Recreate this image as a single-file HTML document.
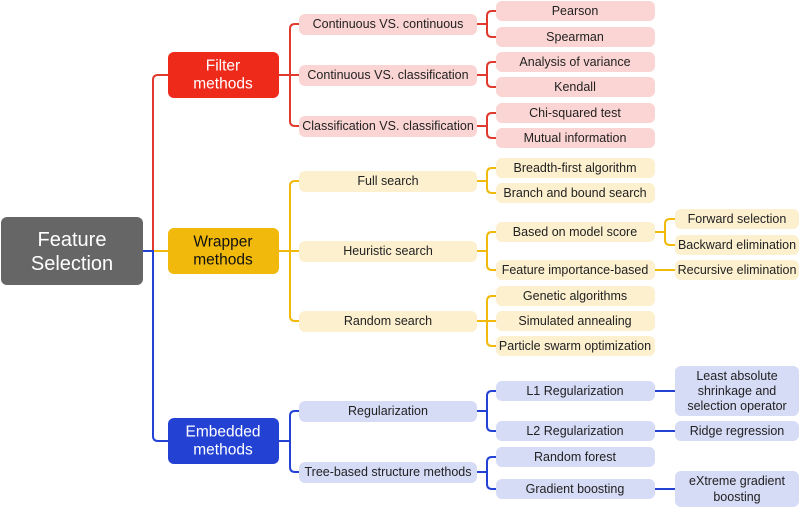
<!DOCTYPE html>
<html><head><meta charset="utf-8"><style>
html,body{margin:0;padding:0;background:#fff;}
svg{display:block}
text{font-family:"Liberation Sans",sans-serif;font-size:12.5px;fill:#222;text-anchor:middle;dominant-baseline:central}
.big{font-size:15.5px;fill:#fff}
.root{font-size:20px;fill:#fff}
.r{stroke:#e0392d;stroke-width:2;fill:none}
.y{stroke:#f0b90b;stroke-width:2;fill:none}
.b{stroke:#2342d4;stroke-width:2;fill:none}
</style></head><body>
<svg width="800" height="508" viewBox="0 0 800 508">
<path class="r" d="M143 251 H153 V80 Q153 75 158 75 H168"/>
<path class="y" d="M143 251 H168"/>
<path class="b" d="M143 251 H153 V436 Q153 441 158 441 H168"/>
<path class="r" d="M279 75 H299 M290 75 V29 Q290 24 295 24 H299 M290 75 V121 Q290 126 295 126 H299"/>
<path class="r" d="M477 24 H487 M487 24 V16 Q487 11 492 11 H496 M487 24 V32 Q487 37 492 37 H496"/>
<path class="r" d="M477 75 H487 M487 75 V67 Q487 62 492 62 H496 M487 75 V82 Q487 87 492 87 H496"/>
<path class="r" d="M477 126 H487 M487 126 V118 Q487 113 492 113 H496 M487 126 V133 Q487 138 492 138 H496"/>
<path class="y" d="M279 251 H299 M290 251 V186 Q290 181 295 181 H299 M290 251 V316 Q290 321 295 321 H299"/>
<path class="y" d="M477 181 H487 M487 181 V173 Q487 168 492 168 H496 M487 181 V188 Q487 193 492 193 H496"/>
<path class="y" d="M477 251 H487 M487 251 V237 Q487 232 492 232 H496 M487 251 V265 Q487 270 492 270 H496"/>
<path class="y" d="M477 321 H496 M487 321 V301 Q487 296 492 296 H496 M487 321 V341 Q487 346 492 346 H496"/>
<path class="y" d="M655 232 H665 M665 232 V224 Q665 219 670 219 H675 M665 232 V240 Q665 245 670 245 H675"/>
<path class="y" d="M655 270 H675"/>
<path class="b" d="M279 441 H290 M290 441 V416 Q290 411 295 411 H299 M290 441 V467 Q290 472 295 472 H299"/>
<path class="b" d="M477 411 H487 M487 411 V396 Q487 391 492 391 H496 M487 411 V426 Q487 431 492 431 H496"/>
<path class="b" d="M477 472 H487 M487 472 V462 Q487 457 492 457 H496 M487 472 V484 Q487 489 492 489 H496"/>
<path class="b" d="M655 391 H675 M655 431 H675 M655 489 H675"/>

<rect x="1" y="217" width="142" height="68" rx="6" fill="#666"/>
<text class="root" x="72" y="240">Feature</text><text class="root" x="72" y="264">Selection</text>
<rect x="168" y="52" width="111" height="46" rx="6" fill="#ee2a1b"/>
<text class="big" x="223" y="66">Filter</text><text class="big" x="223" y="84">methods</text>
<rect x="168" y="228" width="111" height="46" rx="6" fill="#f0b90b"/>
<text class="big" x="223" y="242" style="fill:#111">Wrapper</text><text class="big" x="223" y="260" style="fill:#111">methods</text>
<rect x="168" y="418" width="111" height="46" rx="6" fill="#2342d4"/>
<text class="big" x="223" y="432">Embedded</text><text class="big" x="223" y="450">methods</text>

<g fill="#fbd5d3">
<rect x="299" y="14" width="178" height="21" rx="6"/><rect x="299" y="65" width="178" height="21" rx="6"/><rect x="299" y="116" width="178" height="21" rx="6"/>
<rect x="496" y="1" width="159" height="20" rx="6"/><rect x="496" y="27" width="159" height="20" rx="6"/><rect x="496" y="52" width="159" height="20" rx="6"/><rect x="496" y="77" width="159" height="20" rx="6"/><rect x="496" y="103" width="159" height="20" rx="6"/><rect x="496" y="128" width="159" height="20" rx="6"/>
</g>
<text x="388" y="24">Continuous VS. continuous</text>
<text x="388" y="75">Continuous VS. classification</text>
<text x="388" y="126">Classification VS. classification</text>
<text x="575" y="11">Pearson</text><text x="575" y="37">Spearman</text><text x="575" y="62">Analysis of variance</text><text x="575" y="87">Kendall</text><text x="575" y="113">Chi-squared test</text><text x="575" y="138">Mutual information</text>

<g fill="#fcf0cf">
<rect x="299" y="171" width="178" height="21" rx="6"/><rect x="299" y="241" width="178" height="21" rx="6"/><rect x="299" y="311" width="178" height="21" rx="6"/>
<rect x="496" y="158" width="159" height="20" rx="6"/><rect x="496" y="183" width="159" height="20" rx="6"/><rect x="496" y="222" width="159" height="20" rx="6"/><rect x="496" y="260" width="159" height="20" rx="6"/><rect x="496" y="286" width="159" height="20" rx="6"/><rect x="496" y="311" width="159" height="20" rx="6"/><rect x="496" y="336" width="159" height="20" rx="6"/>
<rect x="675" y="209" width="124" height="20" rx="6"/><rect x="675" y="235" width="124" height="20" rx="6"/><rect x="675" y="260" width="124" height="20" rx="6"/>
</g>
<text x="388" y="181">Full search</text><text x="388" y="251">Heuristic search</text><text x="388" y="321">Random search</text>
<text x="575" y="168">Breadth-first algorithm</text><text x="575" y="193">Branch and bound search</text><text x="575" y="232">Based on model score</text><text x="575" y="270">Feature importance-based</text><text x="575" y="296">Genetic algorithms</text><text x="575" y="321">Simulated annealing</text><text x="575" y="346">Particle swarm optimization</text>
<text x="737" y="219">Forward selection</text><text x="737" y="245">Backward elimination</text><text x="737" y="270">Recursive elimination</text>

<g fill="#d6dbf6">
<rect x="299" y="401" width="178" height="21" rx="6"/><rect x="299" y="462" width="178" height="21" rx="6"/>
<rect x="496" y="381" width="159" height="20" rx="6"/><rect x="496" y="421" width="159" height="20" rx="6"/><rect x="496" y="447" width="159" height="20" rx="6"/><rect x="496" y="479" width="159" height="20" rx="6"/>
<rect x="675" y="366" width="124" height="50" rx="6"/><rect x="675" y="421" width="124" height="20" rx="6"/><rect x="675" y="471" width="124" height="36" rx="6"/>
</g>
<text x="388" y="411">Regularization</text><text x="388" y="472">Tree-based structure methods</text>
<text x="575" y="391">L1 Regularization</text><text x="575" y="431">L2 Regularization</text><text x="575" y="457">Random forest</text><text x="575" y="489">Gradient boosting</text>
<text x="737" y="376">Least absolute</text><text x="737" y="391">shrinkage and</text><text x="737" y="406">selection operator</text>
<text x="737" y="431">Ridge regression</text>
<text x="737" y="481">eXtreme gradient</text><text x="737" y="497">boosting</text>
</svg>
</body></html>
